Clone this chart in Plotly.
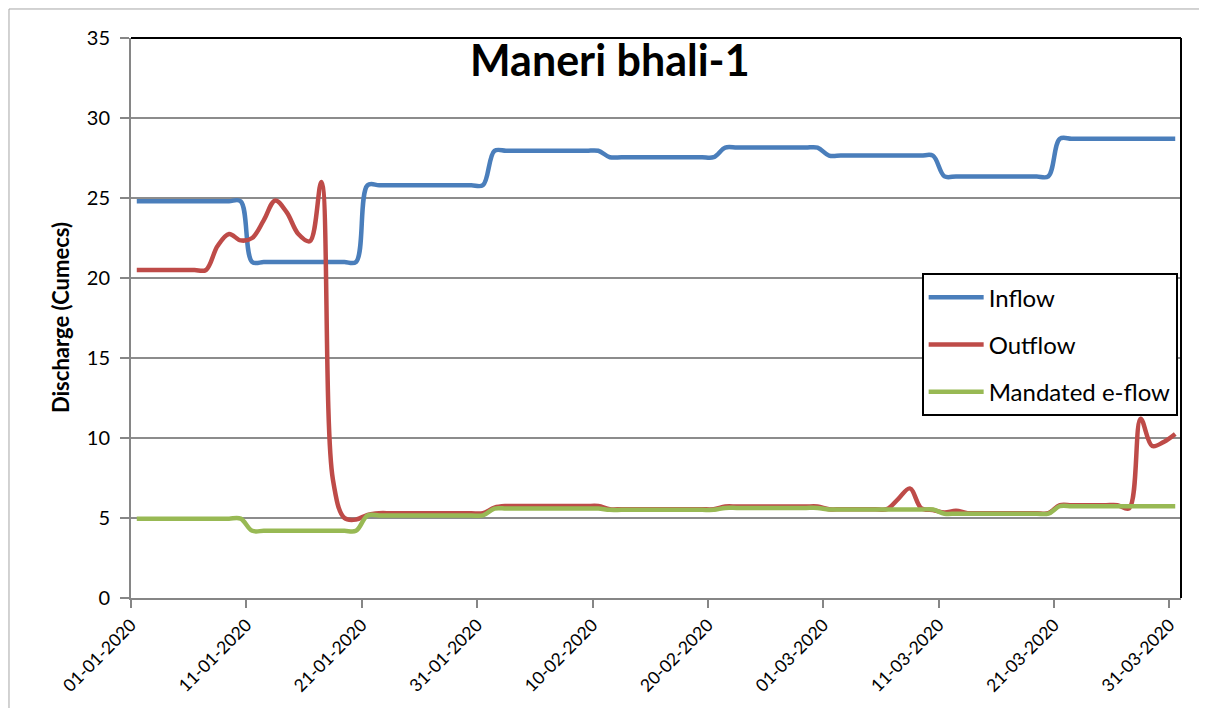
import pandas as pd
import plotly.graph_objects as go

# Daily observations, 01-01-2020 .. 31-03-2020 (plotted mid-day, as in the original date axis)
dates = pd.date_range("2020-01-01 12:00", "2020-03-31 12:00", freq="D")

inflow = [
    24.8, 24.8, 24.8, 24.8, 24.8, 24.8, 24.8, 24.8, 24.8, 24.8,
    21.0, 21.0, 21.0, 21.0, 21.0, 21.0, 21.0, 21.0, 21.0, 21.0,
    25.8, 25.8, 25.8, 25.8, 25.8, 25.8, 25.8, 25.8, 25.8, 25.8, 25.8,
    27.95, 27.95, 27.95, 27.95, 27.95, 27.95, 27.95, 27.95, 27.95, 27.95,
    27.55, 27.55, 27.55, 27.55, 27.55, 27.55, 27.55, 27.55, 27.55, 27.55,
    28.15, 28.15, 28.15, 28.15, 28.15, 28.15, 28.15, 28.15, 28.15,
    27.65, 27.65, 27.65, 27.65, 27.65, 27.65, 27.65, 27.65, 27.65, 27.65,
    26.35, 26.35, 26.35, 26.35, 26.35, 26.35, 26.35, 26.35, 26.35, 26.35,
    28.7, 28.7, 28.7, 28.7, 28.7, 28.7, 28.7, 28.7, 28.7, 28.7, 28.7,
]

outflow = [
    20.5, 20.5, 20.5, 20.5, 20.5, 20.5, 20.5, 22.0, 22.75, 22.35,
    22.5, 23.6, 24.85, 24.1, 22.75, 22.3, 26.0, 7.4, 5.0, 4.9,
    5.2, 5.3, 5.3, 5.3, 5.3, 5.3, 5.3, 5.3, 5.3, 5.3, 5.3,
    5.65, 5.75, 5.75, 5.75, 5.75, 5.75, 5.75, 5.75, 5.75, 5.75,
    5.55, 5.55, 5.55, 5.55, 5.55, 5.55, 5.55, 5.55, 5.55, 5.55,
    5.72, 5.72, 5.72, 5.72, 5.72, 5.72, 5.72, 5.72, 5.72,
    5.55, 5.55, 5.55, 5.55, 5.55, 5.55, 6.2, 6.85, 5.6, 5.5,
    5.35, 5.45, 5.3, 5.3, 5.3, 5.3, 5.3, 5.3, 5.3, 5.3,
    5.8, 5.8, 5.8, 5.8, 5.8, 5.8, 5.6, 11.2, 9.5, 9.75, 10.25,
]

eflow = [
    4.96, 4.96, 4.96, 4.96, 4.96, 4.96, 4.96, 4.96, 4.96, 4.96,
    4.2, 4.2, 4.2, 4.2, 4.2, 4.2, 4.2, 4.2, 4.2, 4.2,
    5.16, 5.16, 5.16, 5.16, 5.16, 5.16, 5.16, 5.16, 5.16, 5.16, 5.16,
    5.59, 5.59, 5.59, 5.59, 5.59, 5.59, 5.59, 5.59, 5.59, 5.59,
    5.51, 5.51, 5.51, 5.51, 5.51, 5.51, 5.51, 5.51, 5.51, 5.51,
    5.63, 5.63, 5.63, 5.63, 5.63, 5.63, 5.63, 5.63, 5.63,
    5.53, 5.53, 5.53, 5.53, 5.53, 5.53, 5.53, 5.53, 5.53, 5.53,
    5.27, 5.27, 5.27, 5.27, 5.27, 5.27, 5.27, 5.27, 5.27, 5.27,
    5.74, 5.74, 5.74, 5.74, 5.74, 5.74, 5.74, 5.74, 5.74, 5.74, 5.74,
]

series_names = ["Inflow", "Outflow", "Mandated e-flow"]
series_values = [inflow, outflow, eflow]
series_colors = ["#4A7EBB", "#BE4B48", "#98B954"]

FONT = "Lato, 'Open Sans', sans-serif"

fig = go.Figure()
for name, vals, col in zip(series_names, series_values, series_colors):
    fig.add_trace(go.Scatter(
        x=dates, y=vals, name=name, mode="lines",
        line=dict(color=col, width=4.5, shape="spline", smoothing=1.0),
        legendgroup=name,
    ))

# page body has an 8px default margin, so the figure is 8px smaller and offsets reduced
fig.update_layout(
    width=1199, height=700,
    margin=dict(l=123, r=26, t=30, b=110),
    plot_bgcolor="white", paper_bgcolor="white",
    font=dict(family=FONT, color="black"),
    showlegend=True,
    legend=dict(
        x=0.753, y=0.58, xanchor="left", yanchor="top",
        bgcolor="white", bordercolor="black", borderwidth=2,
        font=dict(size=24, family=FONT, color="black"),
        tracegroupgap=13, itemwidth=55,
    ),
    annotations=[
        dict(text="<b>Maneri bhali-1</b>", x=0.456, y=0.962, xref="paper", yref="paper",
             xanchor="center", yanchor="middle", showarrow=False,
             font=dict(size=43, family=FONT, color="black")),
        dict(text="<b>Discharge (Cumecs)</b>", x=-0.0676, y=0.5, xref="paper", yref="paper",
             xanchor="center", yanchor="middle", showarrow=False, textangle=-90,
             font=dict(size=22, family=FONT, color="black")),
    ],
    shapes=[
        dict(type="line", xref="paper", yref="paper", x0=0, x1=1, y0=1, y1=1,
             line=dict(color="black", width=2)),
        dict(type="line", xref="paper", yref="paper", x0=1, x1=1, y0=0, y1=1,
             line=dict(color="black", width=2)),
        dict(type="rect", xref="paper", yref="paper", x0=-0.1162, x1=1.019, y0=-0.25, y1=1.0518,
             line=dict(color="#a6a6a6", width=1), layer="below"),
    ],
)

fig.update_xaxes(
    type="date",
    range=["2020-01-01", "2020-04-01"],
    tick0="2020-01-01", dtick=10 * 86400000,
    tickformat="%d-%m-%Y", tickangle=-45,
    tickfont=dict(size=17.5, family=FONT, color="black"),
    showgrid=False, zeroline=False,
    showline=True, linecolor="#868686", linewidth=2,
    ticks="outside", ticklen=8, tickcolor="#868686", tickwidth=1.5,
)
fig.update_yaxes(
    range=[0, 35], dtick=5, tick0=0,
    tickfont=dict(size=20, family=FONT, color="black"),
    showgrid=True, gridcolor="#8c8c8c", gridwidth=1.5,
    zeroline=False,
    showline=True, linecolor="#868686", linewidth=2,
    ticks="outside", ticklen=9, tickcolor="#868686", tickwidth=1.5,
    ticklabelstandoff=6,
)

fig.write_html("out.html")
